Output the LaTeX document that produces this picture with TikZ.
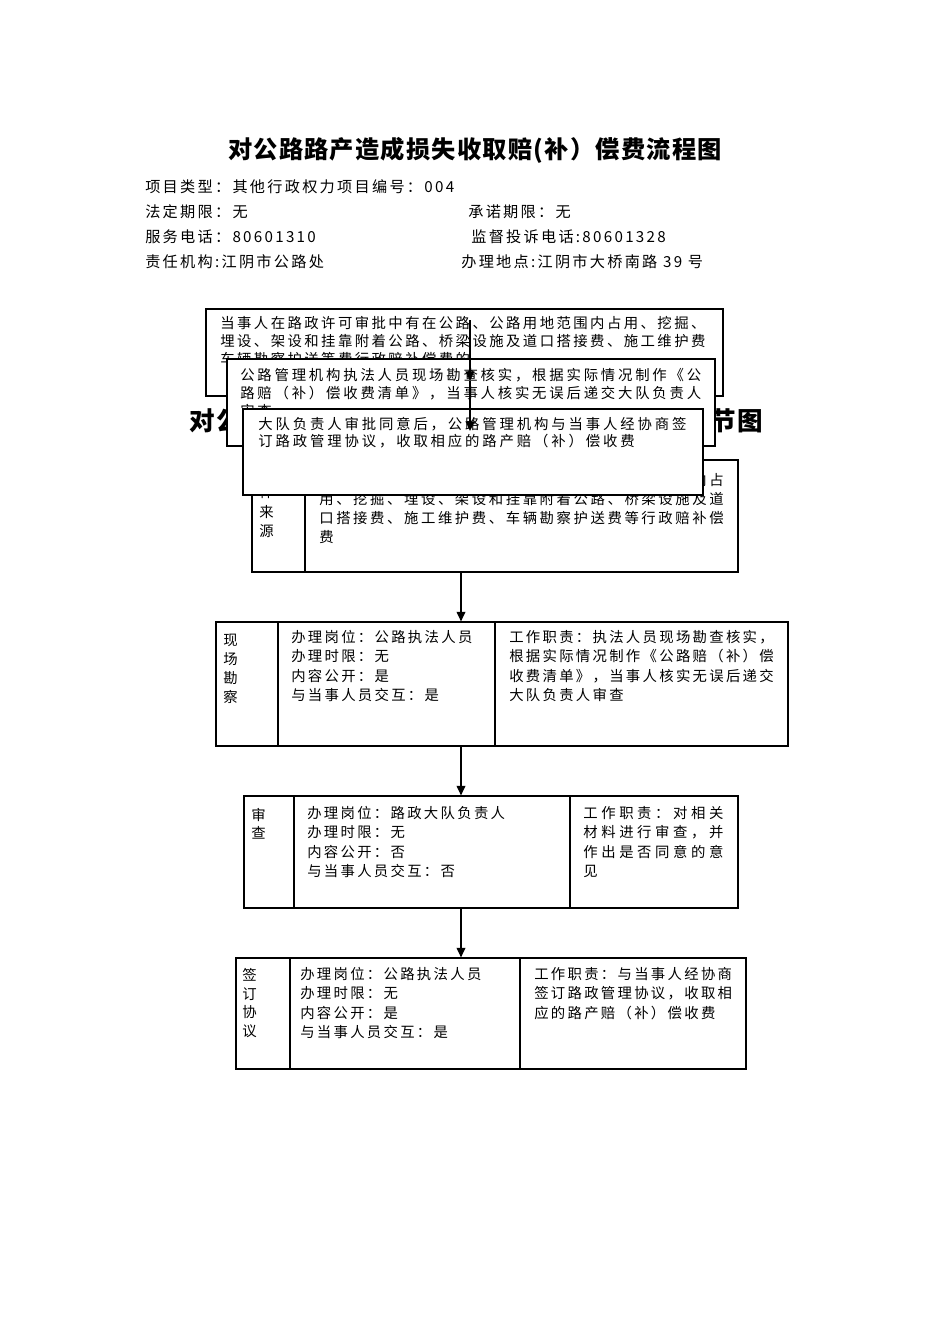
\documentclass[tikz,border=0pt]{standalone}
\usepackage{fontspec}
\setmainfont{Noto Sans CJK SC}
\usetikzlibrary{arrows.meta,positioning,fit}

\newcommand\cjkfont[3]{\fontsize{#1}{#2}\selectfont\addfontfeature{LetterSpace=#3}}

\begin{document}
\begin{tikzpicture}[x=0.6263pt, y=-0.6263pt]
\tikzset{
  cellbox/.style={draw=black, line width=0.75pt, fill=white, inner sep=0pt},
  body/.style={anchor=north west, inner sep=0pt, align=left, font=\cjkfont{9}{12.2}{16}},
  info/.style={anchor=west, inner sep=0pt, font=\cjkfont{9.5}{12}{15}},
  heading/.style={inner sep=0pt, font={\bfseries\cjkfont{16}{18}{5}}},
  flow/.style={-{Triangle[length=6pt,width=5.5pt]}, line width=0.8pt}
}
\useasboundingbox (0,0) rectangle (950,1344);

% heading and project data
\node[heading, font={\bfseries\cjkfont{15.2}{18}{5}}] (title) at (475,150) {对公路路产造成损失收取赔(补）偿费流程图};
\node[info] (kind) at (145,187) {项目类型：其他行政权力项目编号：004};
\node[info] (legal) at (145,212) {法定期限：无};
\node[info] (promise) at (468,212) {承诺期限：无};
\node[info] (phone) at (145,237) {服务电话：80601310};
\node[info] (complain) at (471,237) {监督投诉电话:80601328};
\node[info] (agency) at (145,262) {责任机构:江阴市公路处};
\node[info] (place) at (461,262) {办理地点:江阴市大桥南路 39 号};

% second heading, mostly covered
\node[heading] (subtitle) at (476,422) {对公路路产造成损失收取赔(补）偿费办理环节图};

% case source
\node[cellbox, fit={(252,460) (305,572)}] (source-head) {};
\node[cellbox, fit={(305,460) (738,572)}] (source-body) {};
\node[body] (source-head-text) at (259,466) {案\\件\\来\\源};
\node[body, font=\cjkfont{9}{11.9}{18}] (source-text) at (319,473)
  {当事人在路政许可审批中有在公路、公路用地范围内占\\用、挖掘、埋设、架设和挂靠附着公路、桥梁设施及道\\口搭接费、施工维护费、车辆勘察护送费等行政赔补偿\\费};

% stacked boxes
\node[cellbox, fit={(206,309) (723,396)}] (apply) {};
\node[body, font=\cjkfont{9}{11.3}{17}] (apply-text) at (220,316)
  {当事人在路政许可审批中有在公路、公路用地范围内占用、挖掘、\\埋设、架设和挂靠附着公路、桥梁设施及道口搭接费、施工维护费\\车辆勘察护送等费行政赔补偿费的};
\node[cellbox, fit={(227,359) (715,446)}] (check) {};
\node[body, font=\cjkfont{9}{11.3}{19.5}] (check-text) at (240,368)
  {公路管理机构执法人员现场勘查核实，根据实际情况制作《公\\路赔（补）偿收费清单》，当事人核实无误后递交大队负责人\\审查};
\node[cellbox, fit={(243,409) (703,495)}] (agree) {};
\node[body, font=\cjkfont{9}{10.7}{20}] (agree-text) at (258,417)
  {大队负责人审批同意后，公路管理机构与当事人经协商签\\订路政管理协议，收取相应的路产赔（补）偿收费};

\coordinate (t0) at (470,320);
\coordinate (t1) at (470,381);
\coordinate (t2) at (470,431);
\draw[flow] (t0) -- (t1);
\draw[flow] (t1) -- (t2);

% site survey
\node[cellbox, fit={(216,622) (278,746)}] (survey-head) {};
\node[cellbox, fit={(278,622) (495,746)}] (survey-post) {};
\node[cellbox, fit={(495,622) (788,746)}] (survey-duty) {};
\node[body, font=\cjkfont{9}{11.9}{16}] (survey-head-text) at (223,634) {现\\场\\勘\\察};
\node[body] (survey-post-text) at (291,630)
  {办理岗位：公路执法人员\\办理时限：无\\内容公开：是\\与当事人员交互：是};
\node[body] (survey-duty-text) at (509,630)
  {工作职责：执法人员现场勘查核实，\\根据实际情况制作《公路赔（补）偿\\收费清单》，当事人核实无误后递交\\大队负责人审查};

% review
\node[cellbox, fit={(244,796) (294,908)}] (review-head) {};
\node[cellbox, fit={(294,796) (570,908)}] (review-post) {};
\node[cellbox, fit={(570,796) (738,908)}] (review-duty) {};
\node[body, font=\cjkfont{9}{11.3}{16}] (review-head-text) at (251,808) {审\\查};
\node[body] (review-post-text) at (307,806)
  {办理岗位：路政大队负责人\\办理时限：无\\内容公开：否\\与当事人员交互：否};
\node[body, font=\cjkfont{9}{12.2}{25}] (review-duty-text) at (583,806)
  {工作职责：对相关\\材料进行审查，并\\作出是否同意的意\\见};

% agreement
\node[cellbox, fit={(236,958) (290,1069)}] (sign-head) {};
\node[cellbox, fit={(290,958) (520,1069)}] (sign-post) {};
\node[cellbox, fit={(520,958) (746,1069)}] (sign-duty) {};
\node[body, font=\cjkfont{9}{11.7}{16}] (sign-head-text) at (242,968) {签\\订\\协\\议};
\node[body] (sign-post-text) at (300,967)
  {办理岗位：公路执法人员\\办理时限：无\\内容公开：是\\与当事人员交互：是};
\node[body] (sign-duty-text) at (534,967)
  {工作职责：与当事人经协商\\签订路政管理协议，收取相\\应的路产赔（补）偿收费};

\coordinate (axis) at (461,0);
\draw[flow] (source-body.south -| axis) -- (survey-post.north -| axis);
\draw[flow] (survey-post.south -| axis) -- (review-post.north -| axis);
\draw[flow] (review-post.south -| axis) -- (sign-post.north -| axis);
\end{tikzpicture}
\end{document}
